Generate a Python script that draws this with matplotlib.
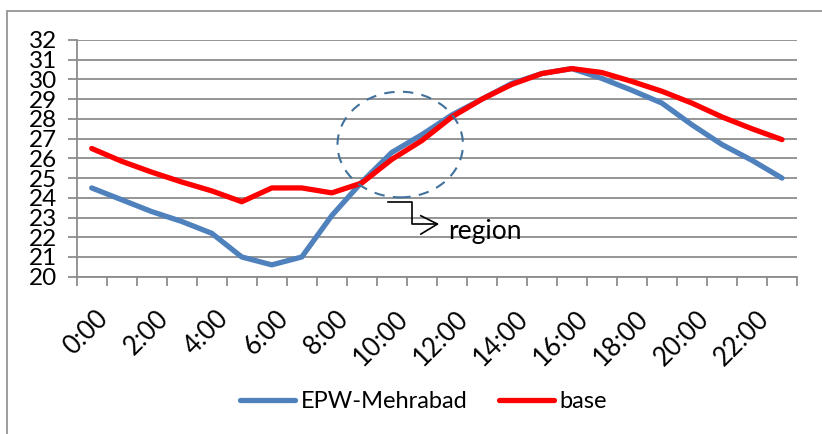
import matplotlib
matplotlib.use("Agg")
import matplotlib.pyplot as plt
import matplotlib.transforms as mtransforms
from matplotlib.patches import Ellipse, Rectangle

plt.rcParams['font.family'] = ['Lato', 'DejaVu Sans']

hours = [f"{h}:00" for h in range(24)]
epw_mehrabad = [24.5, 23.9, 23.3, 22.8, 22.2, 21.0, 20.6, 21.0, 23.1, 24.8, 26.3, 27.2,
                28.2, 29.0, 29.8, 30.3, 30.55, 30.05, 29.45, 28.8, 27.7, 26.7, 25.9, 25.0]
base = [26.5, 25.85, 25.3, 24.8, 24.35, 23.8, 24.5, 24.5, 24.25, 24.75, 25.95, 26.9,
        28.1, 29.0, 29.75, 30.3, 30.55, 30.35, 29.9, 29.4, 28.8, 28.1, 27.5, 26.95]
y_ticks = list(range(20, 33))
series_names = ["EPW-Mehrabad", "base"]

W, H = 822, 434
fig = plt.figure(figsize=(W / 100, H / 100), dpi=100)
ax = fig.add_axes([76.7 / W, 1 - 276.7 / H, (797 - 76.7) / W, (276.7 - 40) / H])

grid_c = '#8C8C8C'
x = list(range(len(hours)))
l1, = ax.plot(x, epw_mehrabad, color='#4F81BD', lw=3.8, solid_capstyle='round',
              solid_joinstyle='round', zorder=3)
l2, = ax.plot(x, base, color='#FF0000', lw=3.8, solid_capstyle='round',
              solid_joinstyle='round', zorder=4)

ax.set_xlim(-0.5, 23.5)
ax.set_ylim(20, 32)
ax.set_yticks(y_ticks)
ax.yaxis.grid(True, color=grid_c, lw=1.3)
ax.set_axisbelow(True)
for s in ['top', 'right']:
    ax.spines[s].set_visible(False)
for s in ['left', 'bottom']:
    ax.spines[s].set_color(grid_c)
    ax.spines[s].set_linewidth(1.3)

ax.tick_params(axis='y', length=6.3, width=1.3, color=grid_c, pad=8, labelsize=17.5)
ax.set_xticks(x[::2])
ax.set_xticklabels(hours[::2], rotation=45, ha='right', va='top', rotation_mode='anchor')
ax.set_xticks([i - 0.5 for i in range(len(hours) + 1)], minor=True)
ax.tick_params(axis='x', which='major', length=0, pad=21, labelsize=18.5)
ax.tick_params(axis='x', which='minor', length=6.3, width=1.3, color=grid_c)
offset = mtransforms.ScaledTranslation(4 / 100, 0, fig.dpi_scale_trans)
for lab in ax.get_xticklabels():
    lab.set_transform(lab.get_transform() + offset)

# annotation: dashed ellipse, elbow arrow and text
ell = Ellipse((10.28, 26.70), 4.18, 5.355, fill=False, edgecolor='#41719C',
              lw=1.5, ls=(0, (5, 4)), zorder=5)
ax.add_patch(ell)
ax.plot([9.887, 10.667, 10.667, 11.52], [23.80, 23.80, 22.67, 22.67], color='black',
        lw=1.2, clip_on=False, zorder=6)
ax.plot([10.967, 11.52, 10.967], [23.09, 22.67, 22.16], color='black', lw=1.2,
        clip_on=False, zorder=6)
ax.text(11.88, 21.91, "region", fontsize=19, va='baseline', ha='left', zorder=6)

leg = fig.legend([l1, l2], series_names, loc='center', bbox_to_anchor=(423.5 / W, 1 - 401.7 / H),
                 ncol=2, frameon=False, fontsize=17, handlelength=2.33, handletextpad=0.21,
                 columnspacing=1.35)

# chart-area border (cropped at right and bottom as in the reference)
fig.patches.append(Rectangle((7 / W, -10 / H), (840 - 7) / W, (434 - 11 + 10) / H,
                             transform=fig.transFigure, fill=False, edgecolor='#8C8C8C', lw=1.2))

fig.savefig("out.png", dpi=100)
